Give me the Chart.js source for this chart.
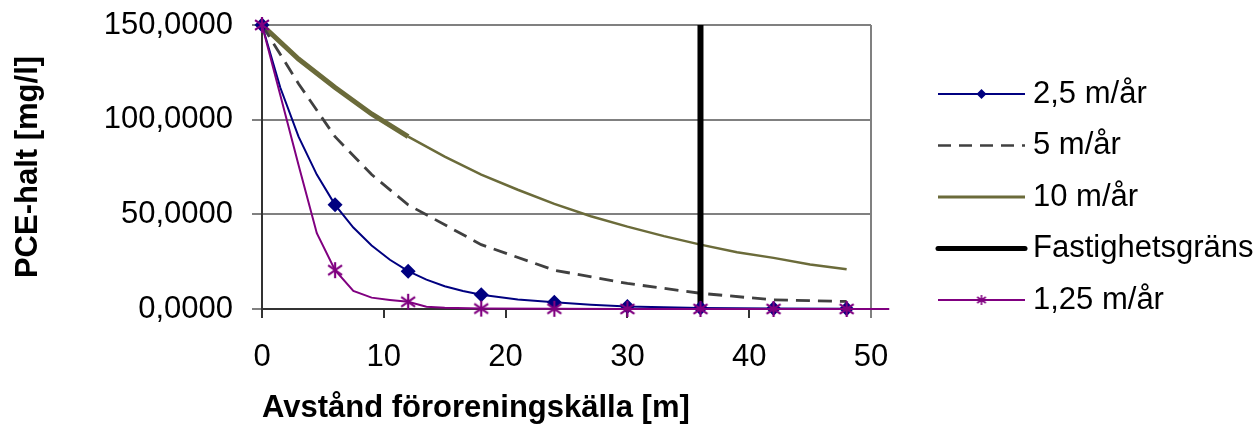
<!DOCTYPE html>
<html>
<head>
<meta charset="utf-8">
<script src="https://cdn.jsdelivr.net/npm/chart.js@4/dist/chart.umd.min.js"></script>
<style>
  html, body { margin: 0; padding: 0; background: #fff; }
  #wrap { width: 1260px; height: 427px; }
</style>
</head>
<body>
<div id="wrap"><canvas id="c" width="1260" height="427"></canvas></div>
<script>
// värden
const seriesNames = ['2,5 m/år', '5 m/år', '10 m/år', 'Fastighetsgräns', '1,25 m/år'];

const xBlue = [0, 1.5, 3, 4.5, 6, 7.5, 9, 10.5, 12, 13.5, 15, 16.5, 18, 21, 24, 27, 30, 36, 42, 48];
const yBlue = [150, 117, 91, 71, 55, 43, 33.5, 26, 20, 15.5, 12, 9.5, 7.5, 5, 3.6, 2.3, 1.3, 0.5, 0.2, 0.1];

const xDash = [0, 3, 6, 9, 12, 18, 24, 30, 36, 42, 48];
const yDash = [150, 119, 91, 71, 55, 34, 20.5, 13.5, 8.3, 4.8, 4.0];

const xOlive = [0, 3, 6, 9, 12, 15, 18, 21, 24, 27, 30, 33, 36, 39, 42, 45, 48];
const yOlive = [150, 132, 117, 103, 91, 80.5, 71, 63, 55.5, 49, 43.5, 38.5, 34, 30, 27, 23.5, 21];

const xBound = [36, 36];
const yBound = [0, 150];

const xPurple = [0, 1.5, 3, 4.5, 6, 7.5, 9, 10.5, 12, 13.5, 15, 18, 24, 30, 36, 42, 48, 51.5];
const yPurple = [150, 113, 76, 40, 20.5, 9.5, 6, 4.8, 3.8, 1.2, 0.6, 0.2, 0.1, 0, 0, 0, 0, 0];

const markerX = [0, 6, 12, 18, 24, 30, 36, 42, 48];

const yTicks = [0, 50, 100, 150];
const yTickLabels = ['0,0000', '50,0000', '100,0000', '150,0000'];

const FONT = "'Liberation Sans', Arial, sans-serif";
const NAVY = '#000080', PURPLE = '#800080', OLIVE = '#6b6b3a', DGRAY = '#404040';

const pts = (xs, ys) => xs.map((x, i) => ({ x, y: ys[i] }));

function starCanvas(size, lw) {
  const cv = document.createElement('canvas');
  cv.width = size; cv.height = size;
  const g = cv.getContext('2d');
  const m = size / 2, r = size / 2 - 1;
  g.strokeStyle = PURPLE; g.lineWidth = lw;
  g.beginPath();
  g.moveTo(m, m - r); g.lineTo(m, m + r);
  g.moveTo(m - r * 0.87, m - r * 0.6); g.lineTo(m + r * 0.87, m + r * 0.6);
  g.moveTo(m + r * 0.87, m - r * 0.6); g.lineTo(m - r * 0.87, m + r * 0.6);
  g.stroke();
  return cv;
}
const star = starCanvas(18, 2.2);
const starSmall = starCanvas(12, 1.6);

const markerR = r => c => (c.raw && markerX.includes(c.raw.x)) ? r : 0;

const legendStyle = [
  { color: NAVY, width: 2, dash: [], marker: 'diamond' },
  { color: DGRAY, width: 2.5, dash: [13, 8], marker: null },
  { color: OLIVE, width: 3, dash: [], marker: null },
  { color: '#000', width: 5, dash: [], marker: null, cap: 'round' },
  { color: PURPLE, width: 2, dash: [], marker: 'star' }
];

const legendPlugin = {
  id: 'sideLegend',
  afterDraw(chart) {
    const { ctx, chartArea: a } = chart;
    const x0 = a.right + 67, x1 = a.right + 154, tx = a.right + 162;
    ctx.save();
    seriesNames.forEach((name, i) => {
      const s = legendStyle[i];
      const y = a.top + 69 + i * 51.5;
      ctx.strokeStyle = s.color;
      ctx.lineWidth = s.width;
      ctx.lineCap = s.cap || 'butt';
      ctx.setLineDash(s.dash);
      ctx.beginPath(); ctx.moveTo(x0, y); ctx.lineTo(x1, y); ctx.stroke();
      ctx.setLineDash([]);
      const mx = (x0 + x1) / 2;
      if (s.marker === 'diamond') {
        ctx.fillStyle = NAVY;
        ctx.beginPath();
        ctx.moveTo(mx, y - 5); ctx.lineTo(mx + 5, y); ctx.lineTo(mx, y + 5); ctx.lineTo(mx - 5, y);
        ctx.closePath(); ctx.fill();
      } else if (s.marker === 'star') {
        ctx.drawImage(starSmall, mx - 6, y - 6);
      }
      ctx.fillStyle = '#000';
      ctx.font = '31px ' + FONT;
      ctx.textBaseline = 'middle';
      ctx.textAlign = 'left';
      ctx.fillText(name, tx, y);
    });
    ctx.restore();
  },
  beforeDatasetsDraw(chart) {
    const { ctx, chartArea: a } = chart;
    ctx.save();
    ctx.strokeStyle = '#808080';
    ctx.lineWidth = 2;
    ctx.beginPath(); ctx.moveTo(a.right, a.top); ctx.lineTo(a.right, a.bottom + 9); ctx.stroke();
    ctx.restore();
  }
};

new Chart(document.getElementById('c'), {
  type: 'line',
  data: {
    datasets: [
      {
        label: seriesNames[0], data: pts(xBlue, yBlue), order: 1,
        borderColor: NAVY, backgroundColor: NAVY, borderWidth: 2, tension: 0,
        pointStyle: 'rectRot', pointRadius: markerR(7.5), pointHoverRadius: 0,
        pointBorderWidth: 0, clip: false
      },
      {
        label: seriesNames[1], data: pts(xDash, yDash), order: 3,
        borderColor: DGRAY, borderWidth: 2.8, borderDash: [14, 8], tension: 0,
        pointRadius: 0, clip: false
      },
      {
        label: seriesNames[2], data: pts(xOlive, yOlive), order: 4,
        borderColor: OLIVE, borderWidth: 2.5, tension: 0,
        pointRadius: 0, clip: false,
        segment: { borderWidth: c => c.p0.parsed.x < 12 ? 5 : 2.5 }
      },
      {
        label: seriesNames[3], data: pts(xBound, yBound), order: 2,
        borderColor: '#000', borderWidth: 6, pointRadius: 0, clip: false
      },
      {
        label: seriesNames[4], data: pts(xPurple, yPurple), order: 0,
        borderColor: PURPLE, backgroundColor: PURPLE, borderWidth: 2, tension: 0,
        pointStyle: star, pointRadius: markerR(7), pointHoverRadius: 0, clip: false
      }
    ]
  },
  options: {
    responsive: false,
    animation: false,
    events: [],
    layout: { padding: { left: 0, right: 389, top: 25, bottom: 0 } },
    plugins: { legend: { display: false }, tooltip: { enabled: false } },
    scales: {
      x: {
        type: 'linear', min: 0, max: 50,
        afterFit: s => { s.height = 118; s.paddingLeft = 0; s.paddingRight = 0; },
        ticks: { stepSize: 10, color: '#000', padding: 21, font: { family: FONT, size: 31 } },
        grid: { drawOnChartArea: false, color: '#333', lineWidth: 2, tickLength: 9 },
        border: { color: '#333', width: 2 },
        title: {
          display: true, text: 'Avstånd föroreningskälla [m]', align: 'start', color: '#000',
          font: { family: FONT, size: 31, weight: 'bold' }, padding: { top: 0, bottom: 0 }
        }
      },
      y: {
        min: 0, max: 150,
        afterFit: s => { s.width = 262; s.paddingTop = 0; s.paddingBottom = 0; },
        ticks: {
          stepSize: 50, color: '#000', padding: 19, font: { family: FONT, size: 31 },
          callback: v => yTickLabels[yTicks.indexOf(v)]
        },
        grid: { color: '#808080', lineWidth: 2, tickLength: 10 },
        border: { color: '#333', width: 2 },
        title: {
          display: true, text: 'PCE-halt [mg/l]', color: '#000',
          font: { family: FONT, size: 31, weight: 'bold' }, padding: { top: 10, bottom: 0 }
        }
      }
    }
  },
  plugins: [legendPlugin]
});
</script>
</body>
</html>
